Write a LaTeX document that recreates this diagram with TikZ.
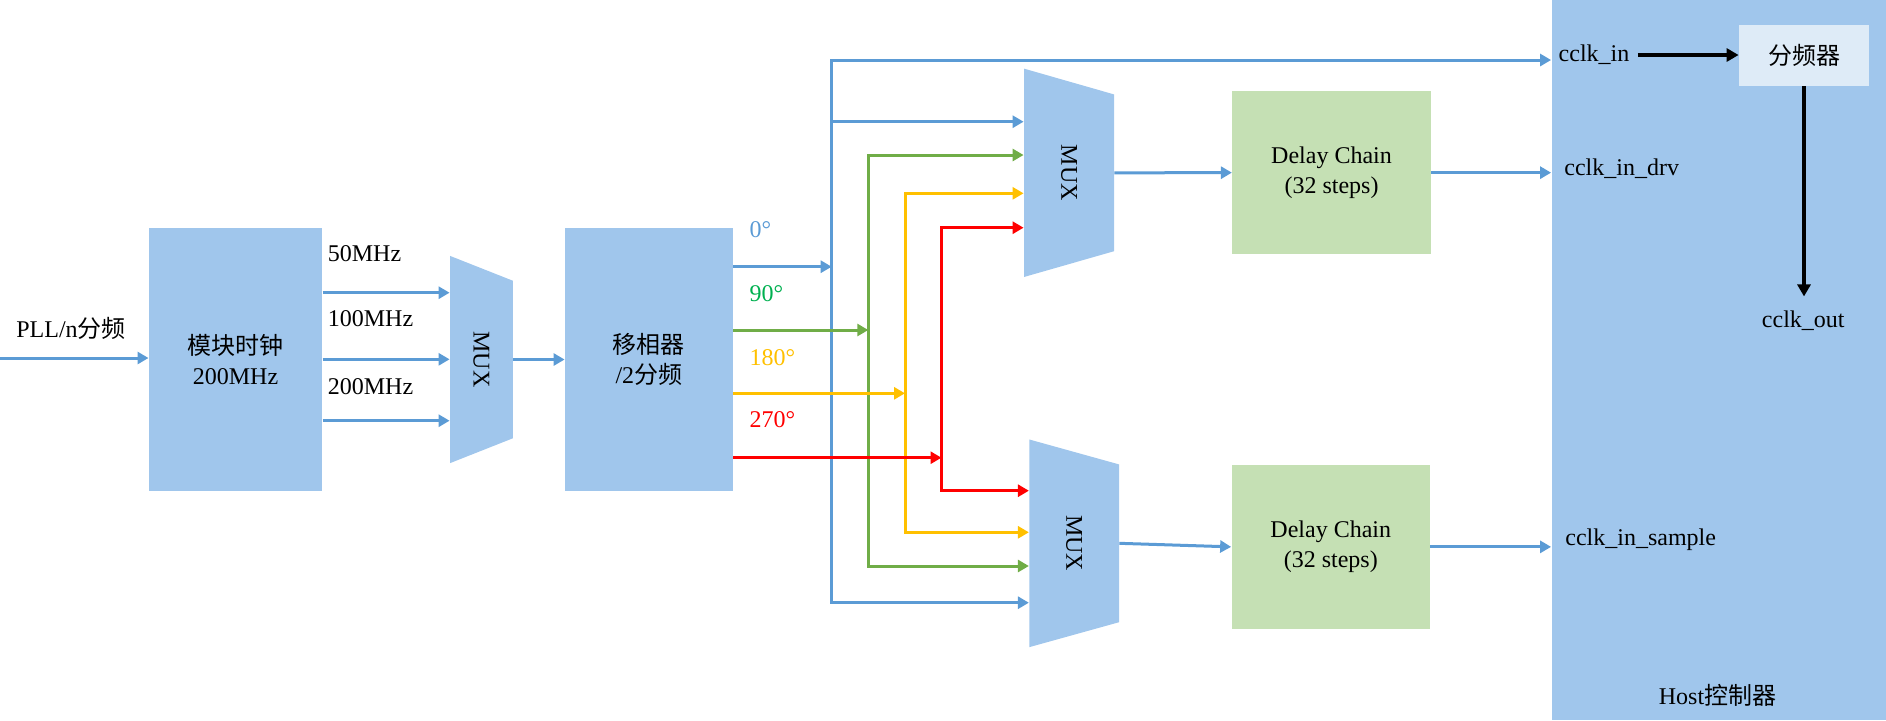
\documentclass[tikz,border=0pt]{standalone}
\usepackage{fontspec}
\setmainfont{Liberation Serif}
\newfontfamily\cjk{Noto Sans CJK SC}
\usetikzlibrary{shapes.geometric,arrows.meta,positioning}
\definecolor{hostblue}{RGB}{160,198,236}
\definecolor{wireblue}{RGB}{91,155,213}
\definecolor{wiregreen}{RGB}{112,173,71}
\definecolor{textgreen}{RGB}{0,176,80}
\definecolor{wireyellow}{RGB}{255,192,0}
\definecolor{wirered}{RGB}{255,0,0}
\definecolor{chaingreen}{RGB}{197,224,180}
\definecolor{divblue}{RGB}{222,235,247}

\begin{document}
\begin{tikzpicture}[
    x=0.5pt, y=-0.5pt,
    font=\fontsize{12}{15}\selectfont,
    block/.style={rectangle, fill=hostblue, inner sep=0pt, align=center},
    mux/.style={trapezium, trapezium stretches=true, fill=hostblue, rotate=-90, inner sep=0pt},
    chain/.style={rectangle, fill=chaingreen, minimum width=99.2pt, minimum height=81.7pt, align=center},
    lbl/.style={inner sep=0pt, anchor=west},
    wire/.style={-{Triangle[length=5.5pt,width=6pt]}, line width=1.5pt},
    both/.style={{Triangle[length=5.5pt,width=6pt]}-{Triangle[length=5.5pt,width=6pt]}, line width=1.5pt},
    karrow/.style={-{Triangle[length=6pt,width=6.5pt]}, line width=1.9pt}
]
\useasboundingbox (0,0) rectangle (1886,720);

% Blocks
\node[block, minimum width=86.6pt, minimum height=131.35pt] (clk) at (235.5,359.35) {{\cjk 模块时钟}\\200MHz};
\node[mux, trapezium angle=61, minimum width=103.8pt, minimum height=31.45pt] (mux1) at (481.45,359.5) {MUX};
\node[block, minimum width=83.85pt, minimum height=131.35pt] (shift) at (648.85,359.35) {{\cjk 移相器}\\/2{\cjk 分频}};
\node[mux, trapezium angle=60, minimum width=104.5pt, minimum height=45pt] (mux2) at (1069,172.8) {MUX};
\node[mux, trapezium angle=61, minimum width=104pt, minimum height=44.85pt] (mux3) at (1074.15,543.3) {MUX};
\node[chain] (delay1) at (1331.5,172.65) {Delay Chain\\(32 steps)};
\node[chain] (delay2) at (1330.75,546.85) {Delay Chain\\(32 steps)};
\node[block, minimum width=167.25pt, minimum height=360pt] (host) at (1718.75,360) {};
\node[rectangle, fill=divblue, minimum width=65pt, minimum height=30.35pt, inner sep=0pt] (div) at (1804,55.35) {{\cjk 分频器}};

% Labels
\node[lbl] (pll) at (16,328) {PLL/n{\cjk 分频}};
\node[lbl] (f50) at (327.5,254) {50MHz};
\node[lbl] (f100) at (327.5,319) {100MHz};
\node[lbl] (f200) at (327.5,386.7) {200MHz};
\node[lbl, text=wireblue] (ph0) at (749.3,230) {0°};
\node[lbl, text=textgreen] (ph90) at (749.3,293.3) {90°};
\node[lbl, text=wireyellow] (ph180) at (749.3,357.3) {180°};
\node[lbl, text=wirered] (ph270) at (749.3,420) {270°};
\node[lbl] (cin) at (1558.3,55) {cclk\_in};
\node[lbl] (cdrv) at (1564,168.3) {cclk\_in\_drv};
\node[lbl] (csmp) at (1565,540) {cclk\_in\_sample};
\node[inner sep=0pt] (cout) at (1803.3,320.7) {cclk\_out};
\node[inner sep=0pt] (hostlbl) at (1717.5,695) {Host{\cjk 控制器}};

% Clock select
\coordinate (pllin) at (0,358);
\draw[wire, wireblue] (pllin) -- (pllin -| clk.west);
\foreach \y in {292.7,359.3,420.7}
    \draw[wire, wireblue] (clk.east |- 0,\y) -- (mux1.south |- 0,\y);
\draw[wire, wireblue] (mux1.north) -- (mux1.north -| shift.west);

% Phase buses
\coordinate (bus0) at (831.7,60);
\coordinate (bus90) at (868.3,155);
\coordinate (bus180) at (905,193.3);
\coordinate (bus270) at (941.5,227.7);
\draw[both, wireblue] (mux3.south |- 0,602.7) -- (bus0 |- 0,602.7) -- (bus0) -- (host.west |- bus0);
\draw[wire, wireblue] (bus0 |- 0,121.7) -- (mux2.south |- 0,121.7);
\draw[both, wiregreen] (mux2.south |- bus90) -- (bus90) -- (bus90 |- 0,566) -- (mux3.south |- 0,566);
\draw[both, wireyellow] (mux2.south |- bus180) -- (bus180) -- (bus180 |- 0,532.3) -- (mux3.south |- 0,532.3);
\draw[both, wirered] (mux2.south |- bus270) -- (bus270) -- (bus270 |- 0,490.7) -- (mux3.south |- 0,490.7);

% Phase outputs
\draw[wire, wireblue] (shift.east |- 0,266.7) -- (bus0 |- 0,266.7);
\draw[wire, wiregreen] (shift.east |- 0,330) -- (bus90 |- 0,330);
\draw[wire, wireyellow] (shift.east |- 0,393.3) -- (bus180 |- 0,393.3);
\draw[wire, wirered] (shift.east |- 0,457.7) -- (bus270 |- 0,457.7);

% Delay chains
\draw[wire, wireblue] (mux2.north) -- (delay1.west);
\draw[wire, wireblue] (mux3.north) -- (delay2.west);
\draw[wire, wireblue] (delay1.east) -- (delay1.east -| host.west);
\draw[wire, wireblue] (delay2.east) -- (delay2.east -| host.west);

% Divider
\draw[karrow, shorten <=4pt] (cin.east) -- (cin.east -| div.west);
\draw[karrow, shorten >=7pt] (div.south) -- (div.south |- cout.north);

\end{tikzpicture}
\end{document}
